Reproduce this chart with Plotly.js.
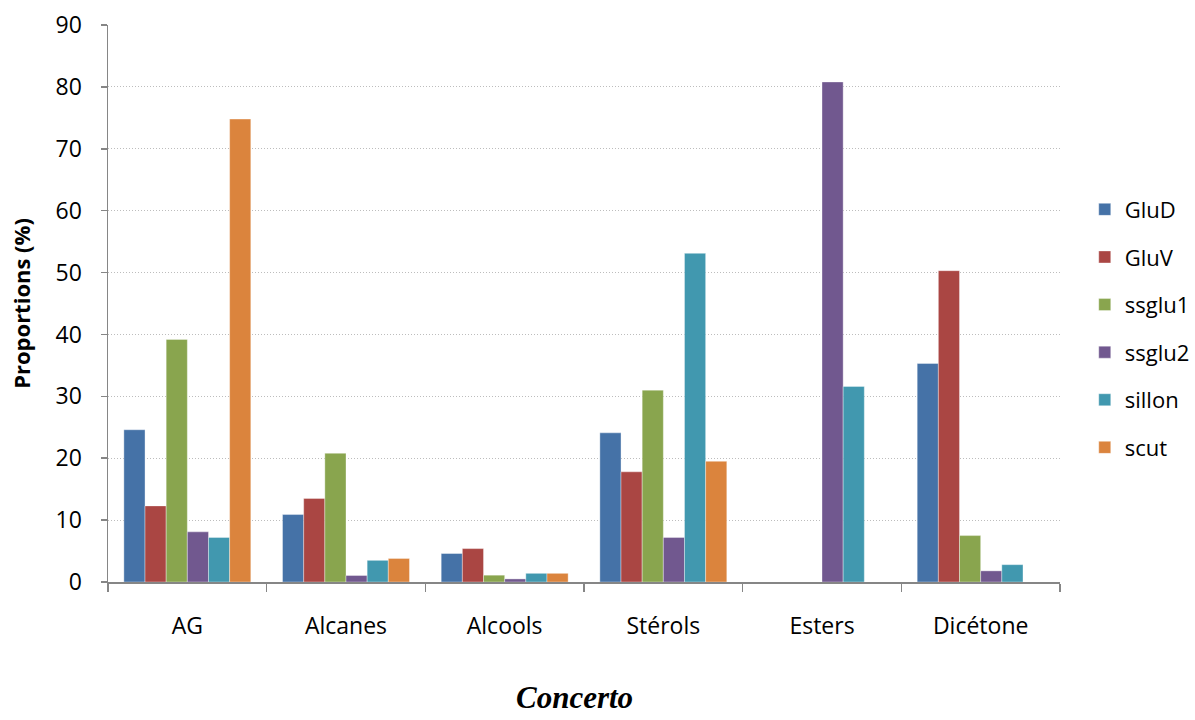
<!DOCTYPE html>
<html>
<head>
<meta charset="utf-8">
<script src="https://cdn.plot.ly/plotly-3.0.1.min.js"></script>
<style>html,body{margin:0;padding:0;background:#fff;}#chart{width:1195px;height:720px;}</style>
</head>
<body>
<div id="chart"></div>
<script>
const categories = ["AG", "Alcanes", "Alcools", "Stérols", "Esters", "Dicétone"];
const seriesNames = ["GluD", "GluV", "ssglu1", "ssglu2", "sillon", "scut"];
const GluD   = [24.6, 10.9, 4.6, 24.1, 0, 35.3];
const GluV   = [12.3, 13.5, 5.4, 17.8, 0, 50.3];
const ssglu1 = [39.2, 20.8, 1.1, 31.0, 0, 7.5];
const ssglu2 = [8.1, 1.05, 0.5, 7.2, 80.8, 1.8];
const sillon = [7.2, 3.5, 1.4, 53.1, 31.6, 2.8];
const scut   = [74.8, 3.8, 1.4, 19.5, 0, 0];
const colors = ["#4572A7", "#AA4643", "#89A54E", "#71588F", "#4198AF", "#DB843D"];
const yTicks = [0, 10, 20, 30, 40, 50, 60, 70, 80, 90];
const xTitle = "Concerto";
const yTitle = "Proportions (%)";

const allValues = [GluD, GluV, ssglu1, ssglu2, sillon, scut];
const traces = seriesNames.map((name, i) => ({
  type: "bar",
  name: name,
  x: categories,
  y: allValues[i],
  legendgroup: name,
  marker: { color: colors[i], line: { color: "rgba(255,255,255,0.6)", width: 0.6 } },
  hoverinfo: "x+y+name"
}));

const FONT = "'Open Sans', 'Noto Sans', sans-serif";

const layout = {
  width: 1195,
  height: 720,
  margin: { l: 108, r: 135, t: 25, b: 138, autoexpand: false },
  paper_bgcolor: "#ffffff",
  plot_bgcolor: "#ffffff",
  barmode: "group",
  bargap: 0.2,
  bargroupgap: 0,
  font: { family: FONT, size: 22, color: "#000" },
  xaxis: {
    type: "category",
    showline: true,
    linecolor: "#868686",
    linewidth: 1.5,
    ticks: "outside",
    tickson: "boundaries",
    ticklen: 8,
    tickcolor: "#868686",
    tickwidth: 1.5,
    ticklabelstandoff: 23,
    showgrid: false,
    zeroline: false,
    tickfont: { family: FONT, size: 23, color: "#000" }
  },
  yaxis: {
    range: [0, 90],
    tickvals: yTicks,
    ticktext: yTicks.map(String),
    showline: true,
    linecolor: "#868686",
    linewidth: 1.5,
    ticks: "outside",
    ticklen: 6,
    tickcolor: "#868686",
    tickwidth: 1.5,
    ticklabelstandoff: 14,
    showgrid: true,
    gridcolor: "#bdbdbd",
    griddash: "1px,2px",
    gridwidth: 1,
    zeroline: false,
    tickfont: { family: FONT, size: 23, color: "#000" },
    title: {
      text: yTitle,
      font: { family: FONT, size: 22, color: "#000", weight: "bold" },
      standoff: 19
    }
  },
  annotations: [{
    text: xTitle,
    xref: "paper", yref: "paper",
    x: 0.4905, y: -0.2065,
    xanchor: "center", yanchor: "middle",
    showarrow: false,
    font: { family: "'Liberation Serif', 'Times New Roman', serif", size: 31, color: "#000", weight: "bold", style: "italic" }
  }],
  legend: {
    x: 1.026,
    xanchor: "left",
    y: 0.455,
    yanchor: "middle",
    tracegroupgap: 16,
    itemwidth: 30,
    font: { family: FONT, size: 22, color: "#000" },
    bgcolor: "rgba(0,0,0,0)"
  },
  showlegend: true
};

Plotly.newPlot("chart", traces, layout, { displayModeBar: false, staticPlot: true });
</script>
</body>
</html>
